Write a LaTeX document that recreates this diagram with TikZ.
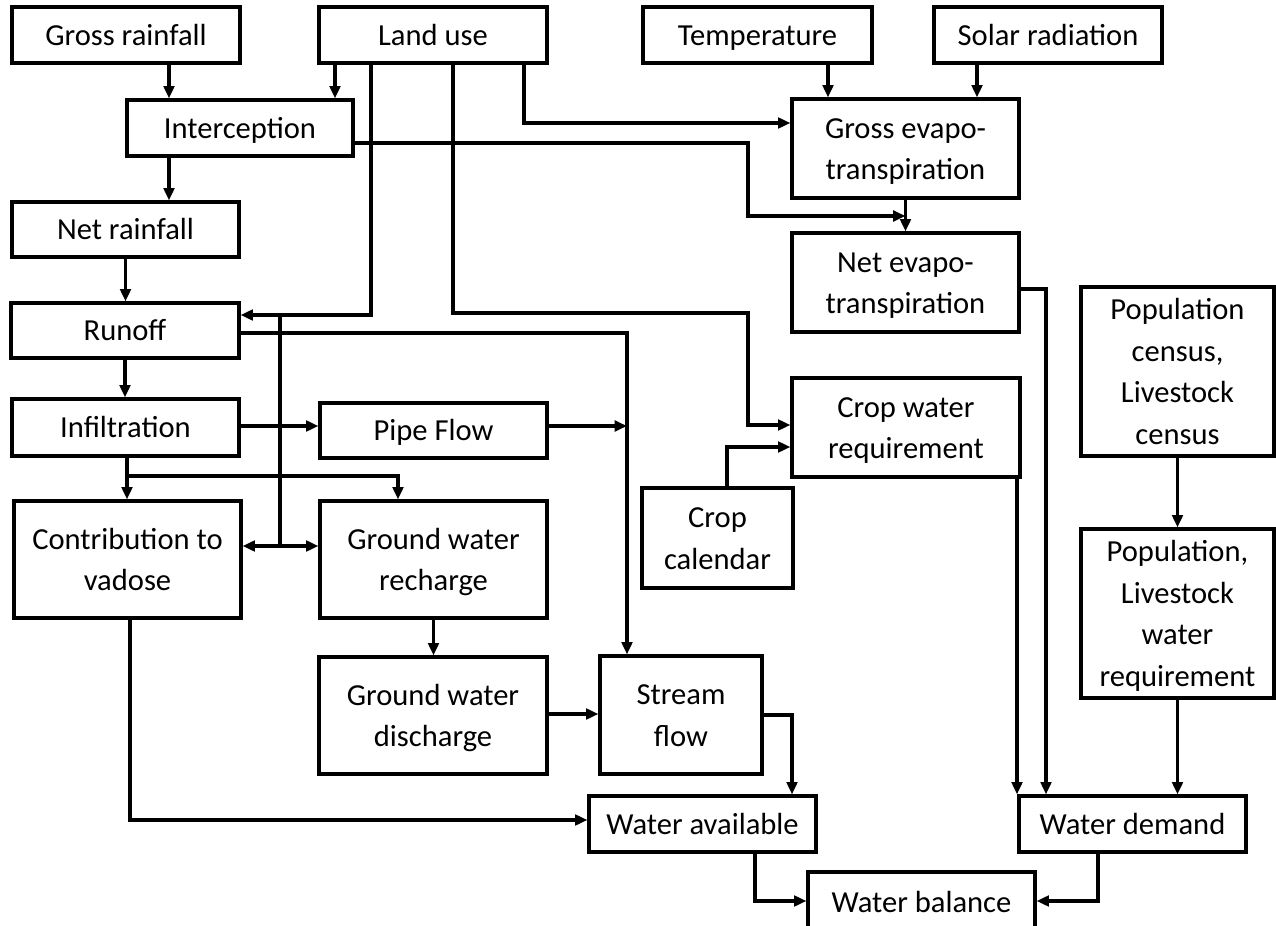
\documentclass[tikz,border=0pt]{standalone}
\usepackage{fontspec}
\setmainfont{Carlito}
\usetikzlibrary{arrows.meta,calc}
\newcommand\mybox[6]{\node[box, minimum width={(#4-#2)*0.02cm}, minimum height={(#5-#3)*0.02cm}] (#1) at ({(#2+#4)/2},{(#3+#5)/2}) {\rule{0pt}{0.85em}#6\vphantom{g}};}
\begin{document}
\begin{tikzpicture}[x=0.02cm,y=-0.02cm,line width=1.8pt,
  box/.style={draw,inner sep=0pt,align=center,font=\fontsize{17.4pt}{23.6pt}\selectfont},
  arr/.style={-{Triangle[length=7pt,width=6pt]}},
  darr/.style={{Triangle[length=7pt,width=6pt]}-{Triangle[length=7pt,width=6pt]}}]
\useasboundingbox (0,0) rectangle (1276,926);
\mybox{gr}{12}{7}{240}{63}{Gross rainfall}
\mybox{lu}{319}{7}{547}{63}{Land use}
\mybox{temp}{643}{7}{872}{63}{Temperature}
\mybox{solar}{934}{7}{1162}{63}{Solar radiation}
\mybox{inter}{127}{100}{353}{156}{Interception}
\mybox{gev}{792}{99}{1019}{198}{Gross evapo-\\transpiration}
\mybox{nr}{12}{202}{239}{257}{Net rainfall}
\mybox{nev}{792}{233}{1019}{332}{Net evapo-\\transpiration}
\mybox{pop}{1081}{287}{1274}{456}{Population\\census,\\Livestock\\census}
\mybox{ro}{11}{303}{239}{358}{Runoff}
\mybox{crop}{792}{378}{1020}{477}{Crop water\\requirement}
\mybox{inf}{12}{399}{239}{456}{Infiltration}
\mybox{pipe}{320}{403}{547}{458}{Pipe Flow}
\mybox{cal}{642}{488}{793}{588}{Crop\\calendar}
\mybox{cv}{14}{501}{241}{618}{Contribution to\\vadose}
\mybox{gwr}{320}{501}{547}{618}{Ground water\\recharge}
\mybox{plw}{1081}{529}{1274}{698}{Population,\\Livestock\\water\\requirement}
\mybox{gwd}{319}{657}{547}{774}{Ground water\\discharge}
\mybox{sf}{600}{656}{762}{774}{Stream\\flow}
\mybox{wa}{589}{796}{816}{852}{Water available}
\mybox{wd}{1019}{796}{1246}{852}{Water demand}
\mybox{wb}{808}{872}{1035}{932}{Water balance}
% coordinates
\coordinate (jro) at (280,315);
\coordinate (jv) at (280,546);
\coordinate (jinf) at (127,476);
\coordinate (jsf) at (627,426);
\coordinate (jlu) at (748,313);
\coordinate (jint) at (748,216);
% connectors
\draw[arr] (gr.south -| 169,0) -- (inter.north -| 169,0);
\draw[arr] (lu.south -| 335,0) -- (inter.north -| 335,0);
\draw[arr] (lu.south -| 371,0) |- (ro.east |- 0,315);
\draw[arr] (lu.south -| 453,0) |- (jlu) |- (crop.west |- 0,425);
\draw[arr] (lu.south -| 524,0) |- (gev.west |- 0,123);
\draw[arr] (inter.east |- 0,143) -| (jint) -- (gev.south |- jint);
\draw[arr] (inter.south -| 169,0) -- (nr.north -| 169,0);
\draw[arr] (temp.south -| 828,0) -- (gev.north -| 828,0);
\draw[arr] (solar.south -| 977,0) -- (gev.north -| 977,0);
\draw[arr] (gev.south) -- (nev.north);
\draw[arr] (nr.south) -- (ro.north -| nr.south);
\draw[arr] (ro.east |- 0,333) -| (sf.north -| jsf);
\draw[arr] (ro.south) -- (inf.north -| ro.south);
\draw[arr] (inf.east |- 0,426) -- (pipe.west |- 0,426);
\draw[arr] (pipe.east |- 0,426) -- (jsf);
\draw[arr] (inf.south -| jinf) -- (cv.north -| jinf);
\draw[arr] (jinf) -| (gwr.north -| 398,0);
\draw (jro) -- (jv);
\draw[darr] (cv.east |- jv) -- (gwr.west |- jv);
\draw[arr] (cv.south -| 130,0) |- (wa.west |- 0,820);
\draw[arr] (gwr.south) -- (gwd.north -| gwr.south);
\draw[arr] (gwd.east |- 0,714) -- (sf.west |- 0,714);
\draw[arr] (sf.east |- 0,715) -| (wa.north -| 792,0);
\draw[arr] (wa.south -| 755,0) |- (wb.west |- 0,901);
\draw[arr] (wd.south -| 1098,0) |- (wb.east |- 0,901);
\draw[arr] (crop.south -| 1017,0) -- (wd.north -| 1017,0);
\draw[arr] (nev.east |- 0,289) -| (wd.north -| 1046,0);
\draw[arr] (pop.south) -- (plw.north);
\draw[arr] (plw.south) -- (wd.north -| plw.south);
\draw[arr] (cal.north -| 727,0) |- (crop.west |- 0,447);
\end{tikzpicture}
\end{document}
